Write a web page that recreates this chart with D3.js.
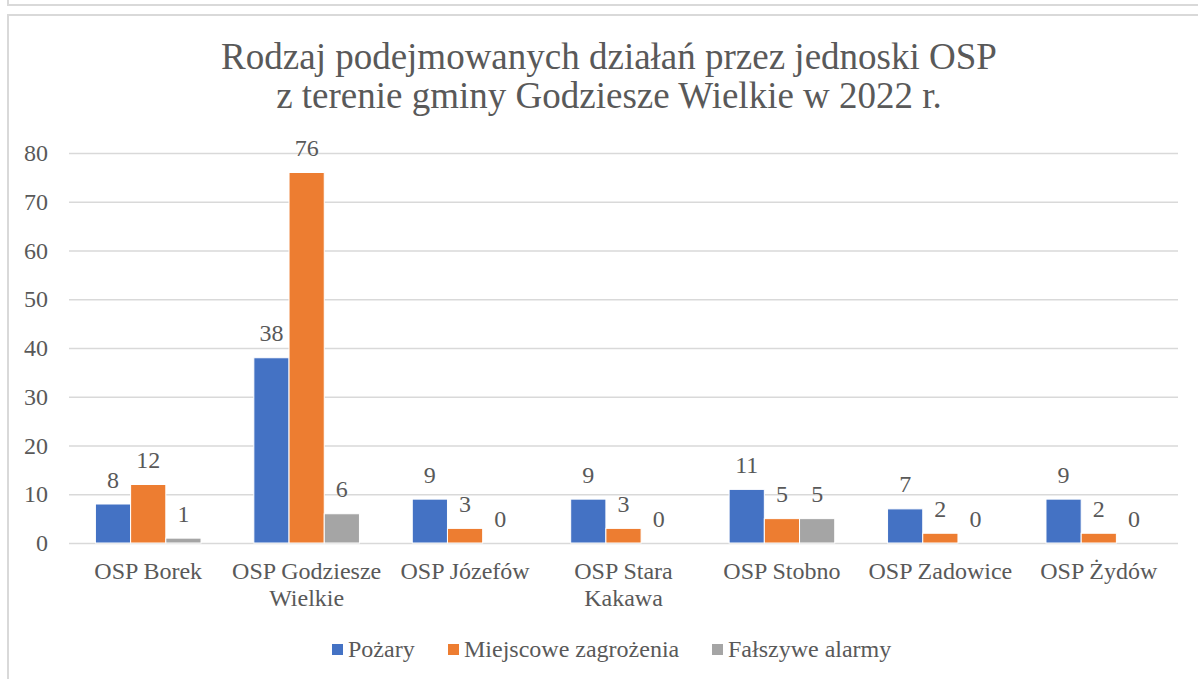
<!DOCTYPE html>
<html>
<head>
<meta charset="utf-8">
<script src="https://cdn.jsdelivr.net/npm/d3@7"></script>
<style>
  body { margin: 0; background: #fff; }
  svg { display: block; }
  text { font-family: "Liberation Serif", "Times New Roman", Times, serif; fill: #595959; }
</style>
</head>
<body>
<svg id="chart" width="1198" height="679"></svg>
<script>
//
// Data
//
var categories = [
  ['OSP Borek'],
  ['OSP Godziesze', 'Wielkie'],
  ['OSP Józefów'],
  ['OSP Stara', 'Kakawa'],
  ['OSP Stobno'],
  ['OSP Zadowice'],
  ['OSP Żydów']
]
var seriesNames = ['Pożary', 'Miejscowe zagrożenia', 'Fałszywe alarmy']
var pozary = [8, 38, 9, 9, 11, 7, 9]
var miejscowe = [12, 76, 3, 3, 5, 2, 2]
var falszywe = [1, 6, 0, 0, 5, 0, 0]
var yTicks = [0, 10, 20, 30, 40, 50, 60, 70, 80]
var titleLines = ['Rodzaj podejmowanych działań przez jednoski OSP', 'z terenie gminy Godziesze Wielkie w 2022 r.']

var colors = ['#4472C4', '#ED7D31', '#A5A5A5']
var gridColor = '#D9D9D9'
var fontFamily = '"Liberation Serif", "Times New Roman", Times, serif'

var svg = d3.select('#chart')

// frames
svg.append('path')
  .attr('d', 'M8,0 V5 H1198')
  .attr('fill', 'none').attr('stroke', gridColor).attr('stroke-width', 2)
svg.append('path')
  .attr('d', 'M8,679 V15 H1198')
  .attr('fill', 'none').attr('stroke', gridColor).attr('stroke-width', 2)

// title
svg.append('text')
  .attr('text-anchor', 'middle')
  .attr('font-family', fontFamily)
  .attr('font-size', 37)
  .selectAll('tspan')
  .data(titleLines)
  .enter()
  .append('tspan')
  .attr('x', 609)
  .attr('y', (d, i) => 69 + i * 39)
  .text(d => d)

var plotLeft = 69, plotRight = 1178, plotTop = 153, plotBottom = 543

var y = d3.scaleLinear().domain([0, 80]).range([plotBottom, plotTop])
var x0 = d3.scaleBand()
  .domain(d3.range(categories.length))
  .range([plotLeft, plotRight])
  .paddingInner(1 / 3)
  .paddingOuter(1 / 6)
var x1 = d3.scaleBand()
  .domain(d3.range(seriesNames.length))
  .range([0, x0.bandwidth()])

// grid + y axis
var yAxis = svg.append('g')
  .attr('transform', `translate(${plotLeft},0)`)
  .call(d3.axisLeft(y).tickValues(yTicks).tickSize(-(plotRight - plotLeft)).tickPadding(21))
yAxis.select('.domain').remove()
yAxis.selectAll('line').attr('stroke', gridColor).attr('stroke-width', 1.5)
yAxis.selectAll('text')
  .attr('font-family', fontFamily)
  .attr('font-size', 24)
  .attr('fill', '#595959')

// x labels
var xl = svg.append('g')
  .selectAll('text')
  .data(categories)
  .enter()
  .append('text')
  .attr('text-anchor', 'middle')
  .attr('font-family', fontFamily)
  .attr('font-size', 24)
  .attr('transform', (d, i) => `translate(${x0(i) + x0.bandwidth() / 2},0)`)
xl.selectAll('tspan')
  .data(d => d)
  .enter()
  .append('tspan')
  .attr('x', 0)
  .attr('y', (d, i) => 579 + i * 27)
  .text(d => d)

// bars
var series = [pozary, miejscowe, falszywe]
var groups = svg.append('g')
  .selectAll('g')
  .data(series)
  .enter()
  .append('g')
  .attr('fill', (d, i) => colors[i])

groups.each(function(vals, si) {
  var g = d3.select(this)
  g.selectAll('rect')
    .data(vals)
    .enter()
    .append('rect')
    .attr('x', (v, ci) => x0(ci) + x1(si))
    .attr('y', v => y(v))
    .attr('width', x1.bandwidth())
    .attr('height', v => plotBottom - y(v))
    .attr('stroke', '#fff')
    .attr('stroke-width', 1)
  g.selectAll('text')
    .data(vals)
    .enter()
    .append('text')
    .attr('text-anchor', 'middle')
    .attr('font-family', fontFamily)
    .attr('font-size', 24)
    .attr('fill', '#404040')
    .attr('x', (v, ci) => x0(ci) + x1(si) + x1.bandwidth() / 2)
    .attr('y', v => y(v) - 16.5)
    .text(v => v)
})

// legend
var legendX = [332, 448, 712]
var legend = svg.append('g')
  .selectAll('g')
  .data(seriesNames)
  .enter()
  .append('g')
  .attr('transform', (d, i) => `translate(${legendX[i]},644)`)
legend.append('rect')
  .attr('width', 11).attr('height', 11)
  .attr('fill', (d, i) => colors[i])
legend.append('text')
  .attr('x', 16)
  .attr('y', 13)
  .attr('font-family', fontFamily)
  .attr('font-size', 24)
  .text(d => d)
</script>
</body>
</html>
